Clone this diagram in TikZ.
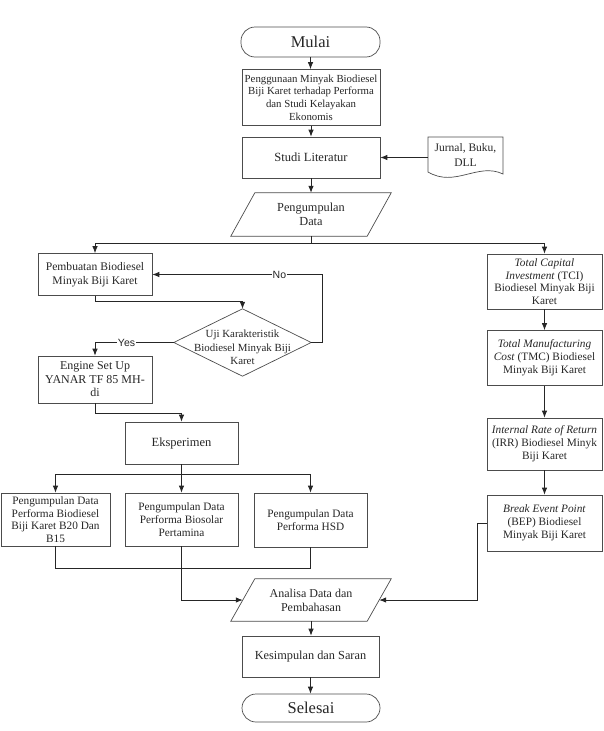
\documentclass[tikz,border=0pt]{standalone}
\usepackage{fontspec}
\setmainfont{Liberation Serif}
\newfontfamily\labfont{Liberation Sans}
\usetikzlibrary{arrows.meta,calc}
\newcommand{\setfs}[2]{\fontsize{#1}{#2}\selectfont}
\begin{document}
\begin{tikzpicture}[x=1pt,y=-1pt,
  box/.style={draw=black!70, line width=0.7pt, rectangle, inner sep=0pt, align=center, text=black!85},
  plain/.style={draw=none, rectangle, inner sep=0pt, align=center, text=black!85},
  term/.style={box, rounded corners=14pt},
  outline/.style={draw=black!70, line width=0.7pt},
  conn/.style={draw=black!85, line width=0.8pt},
  arr/.style={conn, -{Latex[length=7pt,width=5.5pt]}},
  lab/.style={fill=white, inner sep=1pt, text=black!85, font=\labfont\setfs{10.5}{12}}
]
\useasboundingbox (0,0) rectangle (604,731);

% main column
\node[term, minimum width=139pt, minimum height=30pt, font=\setfs{16.5}{18}] (mulai) at (310.5,42) {Mulai};
\node[box, minimum width=138pt, minimum height=56pt, font=\setfs{10.8}{12.7}] (peng) at (311,97.5) {Penggunaan Minyak Biodiesel\\Biji Karet terhadap Performa\\dan Studi Kelayakan\\Ekonomis};
\node[box, minimum width=138pt, minimum height=41pt, font=\setfs{12.5}{14}] (studi) at (311,157.5) {Studi Literatur};
\node[plain, minimum width=75pt, minimum height=41pt, font=\setfs{11.5}{15}] (jur) at (465.5,155) {Jurnal, Buku,\\DLL};
\draw[outline] (428,137) -- (503,137) -- (503,174) .. controls (478,162) and (455,188) .. (428,172) -- cycle;
\node[plain, minimum width=136pt, minimum height=43pt, font=\setfs{12.3}{13.5}] (pd) at (311,214.5) {Pengumpulan\\Data};
\draw[outline] ($(pd.north west)+(12,0)$) -- ($(pd.north east)+(12,0)$) -- ($(pd.south east)+(-12,0)$) -- ($(pd.south west)+(-12,0)$) -- cycle;

% left branch
\node[box, minimum width=114pt, minimum height=42pt, font=\setfs{11.6}{14}] (pemb) at (95,274.5) {Pembuatan Biodiesel\\Minyak Biji Karet};
\node[plain, minimum width=137pt, minimum height=67pt] (uji) at (242.5,342.5) {};
\draw[outline] (uji.north) -- (uji.east) -- (uji.south) -- (uji.west) -- cycle;
\node[plain, font=\setfs{10.9}{13.3}] (ujit) at (242.5,347.5) {Uji Karakteristik\\Biodiesel Minyak Biji\\Karet};
\node[box, minimum width=114pt, minimum height=47pt, font=\setfs{12}{13.5}] (eng) at (95,379.5) {Engine Set Up\\YANAR TF 85 MH-\\di};
\node[box, minimum width=113pt, minimum height=42pt, font=\setfs{12.5}{14}] (eks) at (181.5,443) {Eksperimen};
\node[box, minimum width=109pt, minimum height=53pt, font=\setfs{11.3}{12.7}] (b20) at (55.5,519.5) {Pengumpulan Data\\Performa Biodiesel\\Biji Karet B20 Dan\\B15};
\node[box, minimum width=113pt, minimum height=53pt, font=\setfs{11.3}{12.9}] (bios) at (181.5,519.5) {Pengumpulan Data\\Performa Biosolar\\Pertamina};
\node[box, minimum width=113pt, minimum height=54pt, font=\setfs{11.3}{12.9}] (hsd) at (310.5,520) {Pengumpulan Data\\Performa HSD};

% right branch
\node[box, minimum width=115pt, minimum height=55pt, font=\setfs{11.3}{12.6}] (tci) at (544.5,281.5) {\textit{Total Capital}\\\textit{Investment} (TCI)\\Biodiesel Minyak Biji\\Karet};
\node[box, minimum width=115pt, minimum height=55pt, font=\setfs{11.3}{13.2}] (tmc) at (544.5,358) {\textit{Total Manufacturing}\\\textit{Cost} (TMC) Biodiesel\\Minyak Biji Karet};
\node[box, minimum width=115pt, minimum height=52pt, font=\setfs{11.3}{13.2}] (irr) at (544.5,444) {\textit{Internal Rate of Return}\\(IRR) Biodiesel Minyk\\Biji Karet};
\node[box, minimum width=115pt, minimum height=56pt, font=\setfs{11.3}{13.2}] (bep) at (544.5,523) {\textit{Break Event Point}\\(BEP) Biodiesel\\Minyak Biji Karet};

% bottom
\node[plain, minimum width=136pt, minimum height=42pt, font=\setfs{12}{14}] (ana) at (311,600) {Analisa Data dan\\Pembahasan};
\draw[outline] ($(ana.north west)+(12,0)$) -- ($(ana.north east)+(12,0)$) -- ($(ana.south east)+(-12,0)$) -- ($(ana.south west)+(-12,0)$) -- cycle;
\node[box, minimum width=137pt, minimum height=41pt, font=\setfs{12.3}{14}] (kes) at (310.5,656.5) {Kesimpulan dan Saran};
\node[term, minimum width=138pt, minimum height=28pt, font=\setfs{16.5}{18}] (sel) at (311,708) {Selesai};

% connectors
\draw[arr] (mulai.south) -- (mulai.south |- peng.north);
\draw[arr] (peng.south) -- (peng.south |- studi.north);
\draw[arr] (jur.west |- studi.east) -- (studi.east);
\draw[arr] (studi.south) -- (pd.north);
\draw[conn] (pd.south) -- ++(0,7) coordinate (j1);
\draw[arr] (j1) -| (pemb.north);
\draw[arr] (j1) -| (tci.north);
\draw[arr] (pemb.south) -- ++(0,6) -| (uji.north);
\draw[arr] (uji.east) -- ++(11,0) |- node[lab, pos=0.626] {No} (pemb.east);
\draw[arr] (uji.west) -| node[lab, pos=0.30] {Yes} (eng.north);
\draw[arr] (eng.south) -- ++(0,10) -| (eks.north);
\draw[conn] (eks.south) -- ++(0,10) coordinate (j2);
\draw[arr] (j2) -| (b20.north);
\draw[arr] (j2) -- (bios.north);
\draw[arr] (j2) -| (hsd.north);
\draw[conn] (b20.south) -- ++(0,22) -| (hsd.south);
\draw[arr] (bios.south) |- (ana.west);
\draw[arr] (tci.south) -- (tmc.north);
\draw[arr] (tmc.south) -- (irr.north);
\draw[arr] (irr.south) -- (bep.north);
\draw[arr] (bep.west) -- ++(-9,0) |- (ana.east);
\draw[arr] (ana.south) -- (ana.south |- kes.north);
\draw[arr] (kes.south) -- (kes.south |- sel.north);
\end{tikzpicture}
\end{document}
